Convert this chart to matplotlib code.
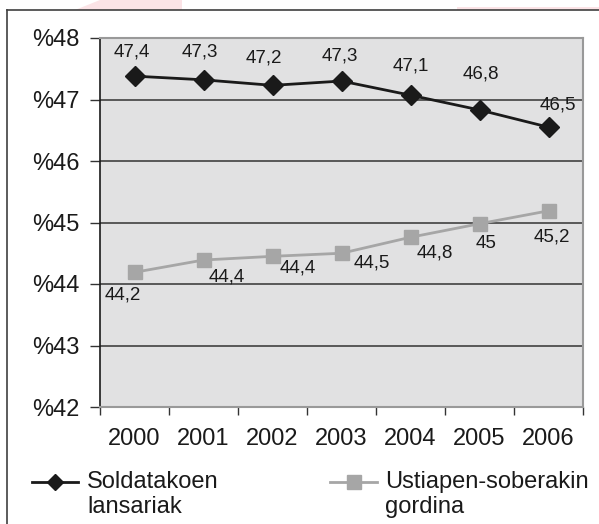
import matplotlib
matplotlib.use("Agg")
import matplotlib.pyplot as plt
from matplotlib.lines import Line2D
from matplotlib.patches import Polygon, Rectangle

plt.rcParams['font.family'] = ['Liberation Sans', 'DejaVu Sans']

years = ['2000', '2001', '2002', '2003', '2004', '2005', '2006']
wages = [47.38, 47.32, 47.23, 47.30, 47.07, 46.83, 46.55]
wages_labels = ['47,4', '47,3', '47,2', '47,3', '47,1', '46,8', '46,5']
surplus = [44.19, 44.39, 44.45, 44.50, 44.76, 44.98, 45.19]
surplus_labels = ['44,2', '44,4', '44,4', '44,5', '44,8', '45', '45,2']
yticks = [42, 43, 44, 45, 46, 47, 48]
ytick_labels = ['%42', '%43', '%44', '%45', '%46', '%47', '%48']
legend_names = [['Soldatakoen', 'lansariak'], ['Ustiapen-soberakin', 'gordina']]

W, H = 599, 524
fig = plt.figure(figsize=(W / 100, H / 100), dpi=100)

# faint watermark shapes at top
fig.add_artist(Polygon([(75 / W, 1 - 10 / H), (100 / W, 1.0), (182 / W, 1.0), (182 / W, 1 - 10 / H)],
                       closed=True, transform=fig.transFigure, facecolor='#fbe3e6', edgecolor='none', zorder=0))
fig.add_artist(Rectangle((457 / W, 1 - 10 / H), 142 / W, 3 / H, transform=fig.transFigure,
                         facecolor='#fbe3e6', edgecolor='none', zorder=0))
# outer frame (left and top)
fig.add_artist(Line2D([7 / W, 7 / W], [0, 1 - 10 / H], transform=fig.transFigure, color='#404040', lw=1.2))
fig.add_artist(Line2D([7 / W, 1.0], [1 - 10 / H, 1 - 10 / H], transform=fig.transFigure, color='#404040', lw=1.2))

ax = fig.add_axes([100 / W, 1 - 407 / H, 483 / W, 369 / H])
ax.set_facecolor('#e1e1e2')
x = list(range(len(years)))

ax.set_xlim(-0.5, len(years) - 0.5)
ax.set_ylim(42, 48)
ax.set_yticks(yticks)
ax.set_yticklabels(ytick_labels, fontsize=17, color='#1a1a1a')
ax.yaxis.grid(True, color='#4d4d4d', lw=1.3)
ax.set_axisbelow(True)

ax.set_xticks([i - 0.5 for i in range(len(years) + 1)])
ax.set_xticklabels([])
ax.set_xticks(x, minor=True)
ax.set_xticklabels(years, minor=True, fontsize=17, color='#1a1a1a')
ax.tick_params(axis='x', which='major', length=6, width=1, color='#333333', direction='out')
ax.tick_params(axis='x', which='minor', length=0, pad=15)
ax.tick_params(axis='y', length=7, width=1, color='#333333', pad=8)

for s in ['top', 'right', 'bottom']:
    ax.spines[s].set_color('#999999')
    ax.spines[s].set_linewidth(1.5)
ax.spines['left'].set_color('#1a1a1a')
ax.spines['left'].set_linewidth(1.2)

black = '#1a1a1a'
grey = '#a6a6a6'
ax.plot(x, wages, color=black, lw=2, marker='D', markersize=10, zorder=3, clip_on=False)
ax.plot(x, surplus, color=grey, lw=2, marker='s', markersize=10, zorder=3, clip_on=False)

w_off = [(-3, 24), (-4, 28), (-9, 27), (-2, 25), (0, 29), (1, 36), (9, 22)]
for xi, v, lab, off in zip(x, wages, wages_labels, w_off):
    ax.annotate(lab, (xi, v), xytext=off, textcoords='offset pixels', ha='center', va='center',
                fontsize=13.5, color='#1a1a1a')
s_off = [(-12, -23), (23, -17), (25, -12), (30, -10), (24, -16), (7, -20), (3, -26)]
for xi, v, lab, off in zip(x, surplus, surplus_labels, s_off):
    ax.annotate(lab, (xi, v), xytext=off, textcoords='offset pixels', ha='center', va='center',
                fontsize=13.5, color='#1a1a1a')

# legend drawn manually
def legend_entry(x0, x1, tx, color, marker, ms, lines):
    yy = 1 - 482 / H
    fig.add_artist(Line2D([x0 / W, x1 / W], [yy, yy], transform=fig.transFigure, color=color, lw=2))
    fig.add_artist(Line2D([(x0 + x1) / 2 / W], [yy], transform=fig.transFigure, color=color,
                          marker=marker, markersize=ms, lw=0))
    for i, t in enumerate(lines):
        fig.text(tx / W, 1 - (488 + 25 * i) / H, t, fontsize=17, va='baseline', ha='left',
                 color='#1a1a1a')

legend_entry(32, 78, 87, black, 'D', 8, legend_names[0])
legend_entry(330, 377, 385, grey, 's', 10, legend_names[1])

fig.savefig('out.png', dpi=100)
